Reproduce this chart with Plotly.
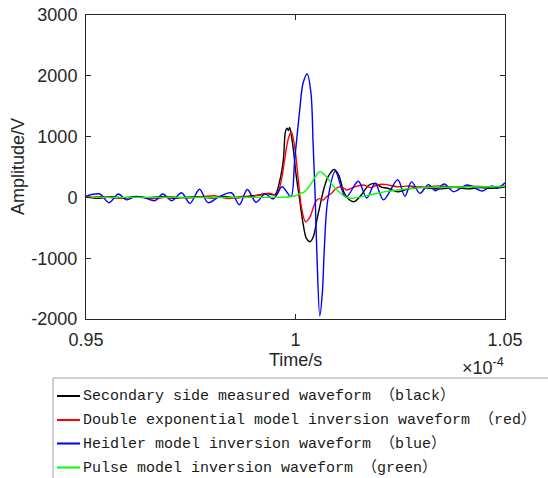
import plotly.graph_objects as go

# Time values in units of 1e-4 s (axis shows x10^-4)
t_black = [0.950, 0.953, 0.956, 0.959, 0.962, 0.965, 0.968, 0.971, 0.974, 0.977, 0.980, 0.983, 0.986, 0.989,
           0.9915, 0.9935, 0.9951, 0.9963, 0.9971, 0.9976, 0.9980, 0.9983, 0.9986, 0.9990, 0.9995, 1.0001,
           1.0010, 1.0018, 1.0026, 1.0035, 1.0043, 1.0051, 1.0058, 1.0068, 1.0077, 1.0092, 1.0103, 1.0115,
           1.0127, 1.0140, 1.0156, 1.0175, 1.0190, 1.0205, 1.0220, 1.0243, 1.0265, 1.0297, 1.032, 1.035,
           1.038, 1.041, 1.044, 1.047, 1.050]
v_black = [10, -15, 10, -10, 15, -5, 10, -15, 5, 10, -10, 15, -5, 20,
           40, 60, 45, 290, 620, 1080, 1140, 1100, 1150, 1020, 780, 396,
           -43, -426, -673, -728, -640, -372, -150, 150, 330, 460, 370, 94,
           -31, -70, 30, 200, 230, 170, 150, 94, 130, 170, 150, 140,
           165, 140, 160, 150, 170]

t_red = [0.950, 0.954, 0.958, 0.962, 0.966, 0.970, 0.974, 0.978, 0.981, 0.984, 0.987, 0.990, 0.9925,
         0.9939, 0.9955, 0.9967, 0.9974, 0.9982, 0.9990, 0.9998, 1.0006, 1.0014, 1.0024, 1.0035, 1.0043,
         1.0051, 1.0058, 1.0066, 1.0074, 1.0086, 1.0097, 1.0109, 1.0122, 1.0136, 1.0162, 1.0180, 1.0194,
         1.0212, 1.0243, 1.0273, 1.030, 1.034, 1.038, 1.042, 1.046, 1.050]
v_red = [0, 10, -15, 5, -20, 10, -10, 15, 25, -20, 15, 20, 60,
         67, 40, 314, 615, 944, 1081, 834, 341, -153, -400, -317, -153,
         -43, -20, -43, 12, 67, 150, 176, 122, 160, 204, 160, 204,
         215, 176, 188, 160, 190, 170, 185, 175, 190]

t_blue = [0.950, 0.9533, 0.9555, 0.9577, 0.9597, 0.9617, 0.9637, 0.9665, 0.9683, 0.9705, 0.9728, 0.9748,
          0.9771, 0.9791, 0.9817, 0.9847, 0.9866, 0.9885, 0.9906, 0.9927, 0.9947, 0.9968, 0.9989, 0.9998,
          1.0010, 1.0018, 1.0028, 1.0037, 1.0042, 1.0047, 1.0051, 1.0058, 1.0064, 1.0069, 1.0077, 1.0095,
          1.0120, 1.0150, 1.0170, 1.0190, 1.0210, 1.0244, 1.0261, 1.0277, 1.0297, 1.0317, 1.0334, 1.0355,
          1.0377, 1.0410, 1.0446, 1.0468, 1.0481, 1.0500]
v_blue = [20, 56, -87, 56, -40, 12, 0, -54, 56, -54, 77, -98,
          133, -87, 10, 77, -120, 130, -80, 58, -25, 176, 12, 615,
          1437, 1877, 2030, 1712, 890, 0, -920, -1950, -1577, -810, -43, 430,
          0, 265, -10, 232, -40, 290, 20, 255, 67, 210, 110, 220,
          94, 204, 105, 190, 150, 240]

t_green = [0.950, 0.970, 0.990, 0.9975, 0.9998, 1.0010, 1.0022, 1.0038, 1.0048, 1.0058, 1.0068, 1.0078,
           1.0090, 1.0106, 1.0122, 1.0135, 1.0150, 1.0170, 1.0190, 1.0220, 1.0260, 1.0300, 1.0400, 1.0500]
v_green = [0, 0, 0, 5, 23, 60, 94, 232, 350, 423, 380, 300,
           190, 78, 0, -15, 0, 30, 60, 100, 135, 160, 170, 180]

names = ["Secondary side measured waveform （black）",
         "Double exponential model inversion waveform （red）",
         "Heidler model inversion waveform （blue）",
         "Pulse model inversion waveform （green）"]
colors = ["#000000", "#FF0000", "#0000FF", "#00FF00"]

x_ticks = [0.95, 1.0, 1.05]
x_ticktext = ["0.95", "1", "1.05"]
y_ticks = [-2000, -1000, 0, 1000, 2000, 3000]
y_ticktext = ["-2000", "-1000", "0", "1000", "2000", "3000"]

series = [(t_black, v_black), (t_red, v_red), (t_blue, v_blue), (t_green, v_green)]

# layout geometry (pixels); margins are zero, plot area set through axis domains
W, H = 548, 478
L, R, T, B = 86, 505, 15, 319


def fx(p):
    return p / W


def fy(p):
    return (H - p) / H


fig = go.Figure()
for (t, v), name, c in zip(series, names, colors):
    fig.add_trace(go.Scatter(x=t, y=v, mode="lines", name=name, showlegend=False,
                             line=dict(color=c, width=1.4, shape="spline", smoothing=0.9)))

axis_color = "#262626"
tick_font = dict(family="Liberation Sans, Arial, sans-serif", size=18, color=axis_color)
legend_font = dict(family="Liberation Mono, Noto Sans CJK SC, monospace", size=15, color="#1a1a1a")

shapes = []
annotations = []

# manual legend box (runs past the page edge, as in the reference)
shapes.append(dict(type="rect", xref="paper", yref="paper",
                   x0=fx(53), x1=fx(570), y0=fy(378), y1=fy(500),
                   line=dict(color="#a0a0a0", width=1), fillcolor="white", layer="above"))
row_y = [396, 420, 443.5, 467.5]
for name, c, ry in zip(names, colors, row_y):
    shapes.append(dict(type="line", xref="paper", yref="paper",
                       x0=fx(57), x1=fx(80), y0=fy(ry), y1=fy(ry),
                       line=dict(color=c, width=2), layer="above"))
    annotations.append(dict(text=name, xref="paper", yref="paper", x=fx(81), y=fy(ry),
                            xanchor="left", yanchor="middle", showarrow=False, font=legend_font))

annotations.append(dict(text="×10<sup>-4</sup>", xref="paper", yref="paper", x=fx(506), y=fy(366),
                        xanchor="right", yanchor="middle", showarrow=False, font=tick_font))
annotations.append(dict(text="Time/s", xref="paper", yref="paper", x=fx(295), y=fy(360),
                        xanchor="center", yanchor="middle", showarrow=False, font=tick_font))
annotations.append(dict(text="Amplitude/V", xref="paper", yref="paper", x=fx(18), y=fy((T + B) / 2),
                        xanchor="center", yanchor="middle", textangle=-90, showarrow=False, font=tick_font))

fig.update_layout(
    width=W, height=H,
    margin=dict(l=0, r=0, t=0, b=0),
    paper_bgcolor="white", plot_bgcolor="white",
    showlegend=False,
    xaxis=dict(domain=[fx(L), fx(R)], range=[0.95, 1.05], tickvals=x_ticks, ticktext=x_ticktext,
               automargin=False,
               ticks="inside", ticklen=5, tickcolor=axis_color, mirror="ticks", ticklabelstandoff=4,
               showline=True, linecolor=axis_color, linewidth=1, showgrid=False, zeroline=False,
               tickfont=tick_font),
    yaxis=dict(domain=[fy(B), fy(T)], range=[-2000, 3000], tickvals=y_ticks, ticktext=y_ticktext,
               automargin=False,
               ticks="inside", ticklen=5, tickcolor=axis_color, mirror="ticks", ticklabelstandoff=4,
               showline=True, linecolor=axis_color, linewidth=1, showgrid=False, zeroline=False,
               tickfont=tick_font),
    shapes=shapes,
    annotations=annotations,
)

fig.write_html("out.html", config={"displayModeBar": False},
               post_script="document.body.style.margin='0';")
